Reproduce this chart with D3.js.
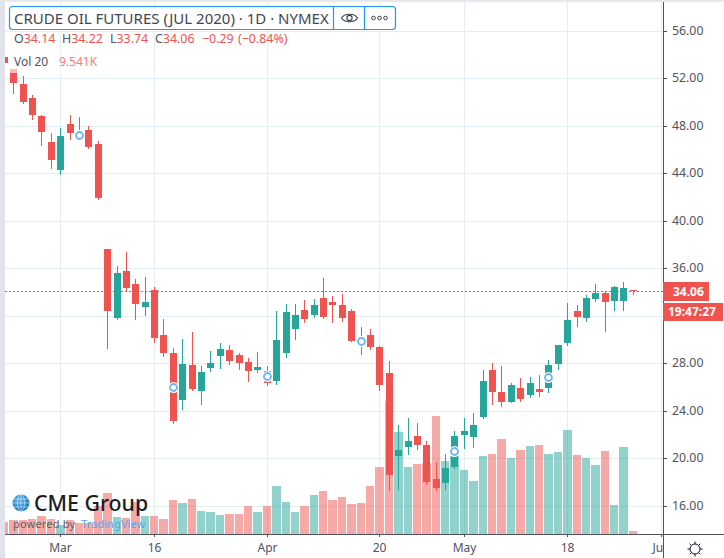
<!DOCTYPE html>
<html>
<head>
<meta charset="utf-8">
<script src="https://cdn.jsdelivr.net/npm/d3@7/dist/d3.min.js"></script>
<style>
html,body{margin:0;padding:0;background:#fff;}
svg{display:block;}
text{font-family:"Noto Sans","Open Sans",sans-serif;}
</style>
</head>
<body>
<svg id="c" width="724" height="558"></svg>
<script>
const title = "CRUDE OIL FUTURES (JUL 2020) · 1D · NYMEX";
const priceTicks = [16,20,24,28,32,36,40,44,48,52,56];
const hiddenPriceLabels = [32];
const timeTickIndex = [5,15,27,39,48,59,69];
const timeTickLabels = ["Mar","16","Apr","20","May","18","Jun"];
const firstIndex = -1;
const open  = [53.76,52.75,51.49,50.31,48.80,46.61,44.26,48.12,47.37,47.62,46.44,37.62,31.82,35.77,34.68,32.75,34.18,30.39,28.88,24.93,27.87,25.69,27.62,28.63,29.13,28.71,28.12,27.45,27.37,26.53,28.88,30.90,32.49,32.07,33.50,33.17,32.91,32.41,30.23,30.39,29.39,27.20,20.23,20.98,21.91,21.15,18.29,17.96,19.30,21.99,21.82,23.50,27.45,25.60,24.76,25.94,25.35,25.86,25.94,27.96,29.72,32.41,31.82,33.42,33.92,33.25,33.25,34.14];
const high  = [53.85,52.75,52.16,50.56,48.88,47.37,47.79,48.88,48.71,47.96,46.70,37.62,36.19,37.37,35.10,35.27,34.43,31.74,29.30,30.06,30.65,27.79,29.05,29.72,29.55,28.88,28.46,28.97,27.79,32.41,33.00,33.00,33.33,33.42,35.18,33.67,33.84,32.58,31.07,30.90,29.47,28.21,22.83,23.42,23.00,21.49,19.72,20.39,22.33,23.42,23.84,27.45,28.04,27.79,26.36,26.78,26.86,27.03,28.29,29.55,33.08,32.91,33.76,34.68,34.01,34.51,34.85,34.22];
const low   = [53.00,50.67,49.83,48.46,46.30,44.34,43.84,46.78,46.78,46.02,41.74,29.22,31.65,34.01,31.65,31.99,29.72,28.55,22.91,24.09,25.69,24.51,27.28,27.54,27.87,27.45,26.44,27.20,26.11,26.19,28.46,29.97,31.40,31.82,31.74,31.40,31.49,29.81,28.71,29.13,25.69,17.28,17.37,20.31,20.73,17.79,17.28,17.37,19.13,20.81,20.90,23.33,24.51,24.34,24.68,24.76,25.10,25.18,25.52,27.45,29.47,31.07,31.49,33.17,30.65,32.41,32.41,33.74];
const close = [53.33,51.60,50.00,48.88,47.48,45.10,47.12,47.37,46.95,46.19,41.91,32.41,35.60,34.34,33.00,33.17,30.14,28.88,23.17,27.96,25.86,27.28,28.04,29.22,28.21,28.04,27.37,27.70,26.36,29.97,32.33,32.07,31.74,32.91,31.91,32.91,31.82,29.89,29.55,29.39,26.19,18.63,20.73,21.49,21.15,18.04,17.54,19.22,21.91,22.33,22.83,26.53,25.60,24.76,26.19,25.02,26.36,25.60,27.87,29.55,31.65,31.91,33.50,33.92,33.17,34.43,34.34,34.06];
const volume = [35.5,39.6,39.6,43.4,52.9,44.2,26.9,39.6,31.8,31.8,81.8,119.4,50,47.1,93.3,52.9,52.9,44.2,99.1,90.5,102,67.3,64.4,55.8,58.7,58.7,81.8,64.4,81.8,139.6,93.3,64.4,81.8,113.6,125.1,99.1,107.8,87.6,90.5,139.6,194.5,385.2,295.6,194.5,203.2,206.1,342,211.8,226.3,185.8,154,226.3,232.1,275.4,220.5,243.6,255.2,258.1,232.1,237.9,301.4,229.2,220.5,200.3,240.7,84.7,252.3,9.541];
const markerIndex = [7,17,27,37,47,57];
const markerPrice = [47.19,26.04,26.94,29.86,20.63,26.88];
const lastPrice = 34.06;
const countdown = "19:47:27";
const volumeLabel = "9.541K";
const ohlcLegend = [["O","34.14",14],["H","34.22",62],["L","33.74",110],["C","34.06",155]];
const changeLegend = [["−0.29",202],["(−0.84%)",238]];

const RED="#ef5350", GREEN="#26a69a", TXT="#50535e", GRID="#e4edf3", AXIS="#50535e";
const paneL=5, paneR=663, base=534;
const svg=d3.select("#c");
const x=d3.scaleLinear().domain([0,69]).rangeRound([13.3,661]);
const y=d3.scaleLinear().domain([16,56]).rangeRound([506,30.8]);
const v=d3.scaleLinear().domain([0,400]).rangeRound([base,base-138.4]);
const indices=open.map((_,i)=>i+firstIndex);

const defs=svg.append("defs");
defs.append("clipPath").attr("id","pane").append("rect").attr("x",paneL).attr("y",2).attr("width",paneR-paneL).attr("height",base-2);
defs.append("clipPath").attr("id","txb").append("rect").attr("x",0).attr("y",0).attr("width",paneR).attr("height",558-base);
const g=defs.append("radialGradient").attr("id","globe").attr("cx","40%").attr("cy","35%").attr("r","75%");
g.append("stop").attr("offset","0").attr("stop-color","#5db4e8");
g.append("stop").attr("offset","1").attr("stop-color","#0f6db3");

svg.append("rect").attr("width",5).attr("height",558).attr("fill","#e0e3eb");
svg.append("rect").attr("width",724).attr("height",2).attr("fill","#e7e8ee");

const pane=svg.append("g").attr("clip-path","url(#pane)");
pane.selectAll(".gh").data(priceTicks).join("line")
 .attr("x1",paneL).attr("x2",paneR).attr("y1",d=>y(d)+.5).attr("y2",d=>y(d)+.5).attr("stroke",GRID);
pane.selectAll(".gv").data(timeTickIndex).join("line")
 .attr("y1",2).attr("y2",base).attr("x1",d=>x(d)+.5).attr("x2",d=>x(d)+.5).attr("stroke",GRID);

const isUp=i=>close[i]>open[i];
pane.selectAll(".vol").data(indices).join("rect")
 .attr("x",(d)=>Math.round(x(d)-4)).attr("width",(d)=>Math.round(x(d+1)-4)-Math.round(x(d)-4)-1)
 .attr("y",(d,i)=>v(volume[i])).attr("height",(d,i)=>base-v(volume[i]))
 .attr("fill",(d,i)=>isUp(i)?GREEN:RED).attr("fill-opacity",.5);
pane.selectAll(".wick").data(indices).join("rect")
 .attr("x",d=>x(d)).attr("width",1)
 .attr("y",(d,i)=>y(high[i])).attr("height",(d,i)=>Math.max(1,y(low[i])-y(high[i])))
 .attr("fill",(d,i)=>isUp(i)?GREEN:RED);
pane.selectAll(".body").data(indices).join("rect")
 .attr("x",d=>x(d)-3).attr("width",7)
 .attr("y",(d,i)=>y(Math.max(open[i],close[i])))
 .attr("height",(d,i)=>Math.max(1,y(Math.min(open[i],close[i]))-y(Math.max(open[i],close[i]))))
 .attr("fill",(d,i)=>isUp(i)?GREEN:RED);
pane.append("line").attr("x1",paneL).attr("x2",paneR).attr("y1",y(lastPrice)+.5).attr("y2",y(lastPrice)+.5)
 .attr("stroke",RED).attr("stroke-dasharray","2,2");
const mk=pane.selectAll(".mk").data(markerIndex).join("g")
 .attr("transform",(d,i)=>`translate(${x(d)+.5},${y(markerPrice[i])+.5})`);
mk.append("circle").attr("r",5.5).attr("fill","#fff");
mk.append("circle").attr("r",3.5).attr("fill","#fff").attr("stroke","#6db4f5").attr("stroke-width",1.8);

const ay=svg.append("g").attr("transform",`translate(${paneR},0)`)
 .call(d3.axisRight(y).tickValues(priceTicks)
   .tickFormat(d=>hiddenPriceLabels.includes(d)?"":d3.format(".2f")(d)).tickSize(4).tickPadding(5));
ay.select(".domain").remove();
ay.selectAll("line").attr("stroke",AXIS);
ay.selectAll("text").attr("fill",TXT).style("font-size","12.3px");
svg.append("line").attr("x1",paneR+.5).attr("x2",paneR+.5).attr("y1",2).attr("y2",558).attr("stroke",AXIS);

const ax=svg.append("g").attr("transform",`translate(0,${base})`).attr("clip-path","url(#txb)")
 .call(d3.axisBottom(x).tickValues(timeTickIndex).tickFormat((d,i)=>timeTickLabels[i]).tickSize(3).tickPadding(6));
ax.select(".domain").remove();
ax.selectAll("line").attr("stroke",AXIS);
ax.selectAll("text").attr("fill",TXT).style("font-size","12px");
svg.append("line").attr("x1",paneL).attr("x2",724).attr("y1",base+.5).attr("y2",base+.5).attr("stroke",AXIS);

svg.append("rect").attr("x",paneR).attr("y",282).attr("width",46).attr("height",19).attr("fill",RED);
svg.append("text").attr("x",673).attr("y",296).attr("fill","#fff").attr("font-size",12).attr("font-weight",700).text(lastPrice.toFixed(2));
svg.append("rect").attr("x",paneR).attr("y",303).attr("width",60).attr("height",18).attr("fill",RED);
svg.append("text").attr("x",668).attr("y",316).attr("fill","#fff").attr("font-size",12).attr("font-weight",700).text(countdown);

svg.append("rect").attr("x",9).attr("y",50).attr("width",95).attr("height",23).attr("fill","#fff").attr("fill-opacity",.6);
svg.append("rect").attr("x",9.5).attr("y",6.5).attr("width",386).attr("height",23).attr("rx",3).attr("fill","#fff").attr("stroke","#2196f3").attr("stroke-width",1.2);
[333.5,364.5].forEach(px=>svg.append("line").attr("x1",px).attr("x2",px).attr("y1",7).attr("y2",29).attr("stroke","#2196f3").attr("stroke-width",1.2));
svg.append("text").attr("x",14).attr("y",23.5).attr("fill","#434651").attr("font-size",15).text(title);
ohlcLegend.forEach(([k,val,px])=>{
  const t=svg.append("text").attr("x",px).attr("y",42.5).attr("font-size",12.4);
  t.append("tspan").attr("fill",TXT).text(k);
  t.append("tspan").attr("fill",RED).text(val);
});
changeLegend.forEach(([s,px])=>svg.append("text").attr("x",px).attr("y",42.5).attr("font-size",12.4).attr("fill",RED).text(s));
svg.append("text").attr("x",14).attr("y",66).attr("font-size",12).attr("fill",TXT).text("Vol 20");
svg.append("text").attr("x",59).attr("y",66).attr("font-size",12).attr("fill","#f47c79").text(volumeLabel);

const eye=svg.append("g").attr("transform","translate(349.5,18)").attr("fill","none").attr("stroke","#3c3f48").attr("stroke-width",1.1);
eye.append("path").attr("d","M-8,0C-5,-5 5,-5 8,0C5,5 -5,5 -8,0Z");
eye.append("circle").attr("r",2.6);
[-6,0,6].forEach(dx=>svg.append("circle").attr("cx",379.5+dx).attr("cy",18).attr("r",1.8).attr("fill","none").attr("stroke","#3c3f48").attr("stroke-width",1));

const lg=svg.append("g").attr("transform","translate(21,503)");
lg.append("circle").attr("r",8.5).attr("fill","url(#globe)");
lg.append("ellipse").attr("rx",3.6).attr("ry",8.5).attr("fill","none").attr("stroke","#fff").attr("stroke-opacity",.7).attr("stroke-width",.7);
lg.append("line").attr("x1",0).attr("x2",0).attr("y1",-8.5).attr("y2",8.5).attr("stroke","#fff").attr("stroke-opacity",.7).attr("stroke-width",.7);
[-4,0,4].forEach(dy=>lg.append("line").attr("x1",-8).attr("x2",8).attr("y1",dy).attr("y2",dy).attr("stroke","#fff").attr("stroke-opacity",.7).attr("stroke-width",.7));
svg.append("text").attr("x",34).attr("y",510.5).attr("font-size",21.3).attr("font-weight",500).attr("fill","#1d1d1f").text("CME Group");
svg.append("text").attr("x",13).attr("y",528).attr("font-size",11).attr("fill","#5f5f63").attr("letter-spacing",.2).text("powered by");
svg.append("text").attr("x",81).attr("y",528).attr("font-size",11.2).attr("fill","#5aa5ee").text("TradingView");

const gear=svg.append("g").attr("transform","translate(695,549)").attr("stroke","#131722").attr("fill","none");
gear.append("circle").attr("r",5);
d3.range(8).forEach(k=>{const a=k*Math.PI/4;
  gear.append("line").attr("x1",5*Math.cos(a)).attr("y1",5*Math.sin(a)).attr("x2",7.5*Math.cos(a)).attr("y2",7.5*Math.sin(a));});
</script>
</body>
</html>
